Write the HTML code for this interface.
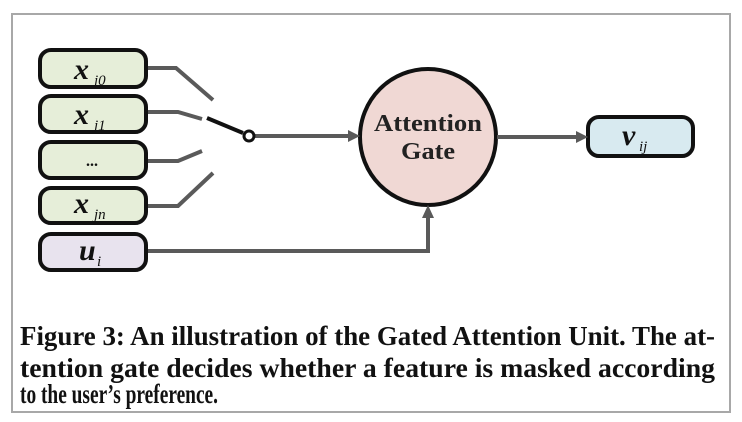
<!DOCTYPE html>
<html><head><meta charset="utf-8"><style>
html,body{margin:0;padding:0;background:#fff;width:742px;height:422px;overflow:hidden}
</style></head><body>
<svg width="742" height="422" xmlns="http://www.w3.org/2000/svg">
<rect x="12" y="14" width="718" height="398" fill="#fff" stroke="#a8a8a8" stroke-width="2"/>
<g stroke="#111" stroke-width="4" fill="#e6eed9">
<rect x="40" y="50" width="106" height="37" rx="11"/>
<rect x="40" y="96" width="106" height="36" rx="11"/>
<rect x="40" y="142" width="106" height="36" rx="11"/>
<rect x="40" y="188" width="106" height="35" rx="11"/>
<rect x="40" y="234" width="106" height="36" rx="11" fill="#e8e3ee"/>
<rect x="588" y="117" width="105" height="39" rx="11" fill="#d8eaf0"/>
<circle cx="428" cy="137" r="68" fill="#f0d8d4"/>
</g>
<g stroke="#5a5a5a" stroke-width="4" fill="none">
<polyline points="148,68 176,68 213,100"/>
<polyline points="148,112 178,112 202,119"/>
<polyline points="148,161 178,161 202,151"/>
<polyline points="148,206 178,206 213,173"/>
<line x1="255" y1="136" x2="352" y2="136"/>
<line x1="497" y1="137" x2="578" y2="137"/>
<polyline points="148,251 428,251 428,216"/>
</g>
<g fill="#5a5a5a">
<polygon points="360,136 348,130 348,142"/>
<polygon points="588,137 576,131 576,143"/>
<polygon points="428,205 422,218 434,218"/>
</g>
<line x1="207" y1="118" x2="243" y2="133" stroke="#111" stroke-width="4"/>
<circle cx="249" cy="136" r="5" fill="#fff" stroke="#111" stroke-width="3"/>
<g font-family="Liberation Serif, serif" font-weight="bold" font-style="italic" fill="#111">
<text x="74" y="79" font-size="30">x</text><text x="94" y="85" font-size="15" font-weight="normal">j0</text>
<text x="74" y="124" font-size="30">x</text><text x="94" y="130" font-size="15" font-weight="normal">j1</text>
<text x="86" y="166" font-size="16" font-style="normal">...</text>
<text x="74" y="213" font-size="30">x</text><text x="94" y="219" font-size="15" font-weight="normal">jn</text>
<text x="79" y="260" font-size="30">u</text><text x="97" y="266" font-size="15" font-weight="normal">i</text>
<text x="622" y="145" font-size="30">v</text><text x="639" y="151" font-size="15" font-weight="normal">ij</text>
</g>
<g font-family="Liberation Serif, serif" font-weight="bold" fill="#222" font-size="24" text-anchor="middle">
<text x="428" y="131" textLength="108" lengthAdjust="spacingAndGlyphs">Attention</text>
<text x="428" y="159" textLength="54" lengthAdjust="spacingAndGlyphs">Gate</text>
</g>
<g font-family="Liberation Serif, serif" font-weight="bold" fill="#111" font-size="27">
<text x="20" y="345" textLength="695" lengthAdjust="spacingAndGlyphs">Figure 3: An illustration of the Gated Attention Unit. The at-</text>
<text x="20" y="377" textLength="695" lengthAdjust="spacingAndGlyphs">tention gate decides whether a feature is masked according</text>
<text x="20" y="403" textLength="198" lengthAdjust="spacingAndGlyphs">to the user’s preference.</text>
</g>
</svg>
</body></html>
